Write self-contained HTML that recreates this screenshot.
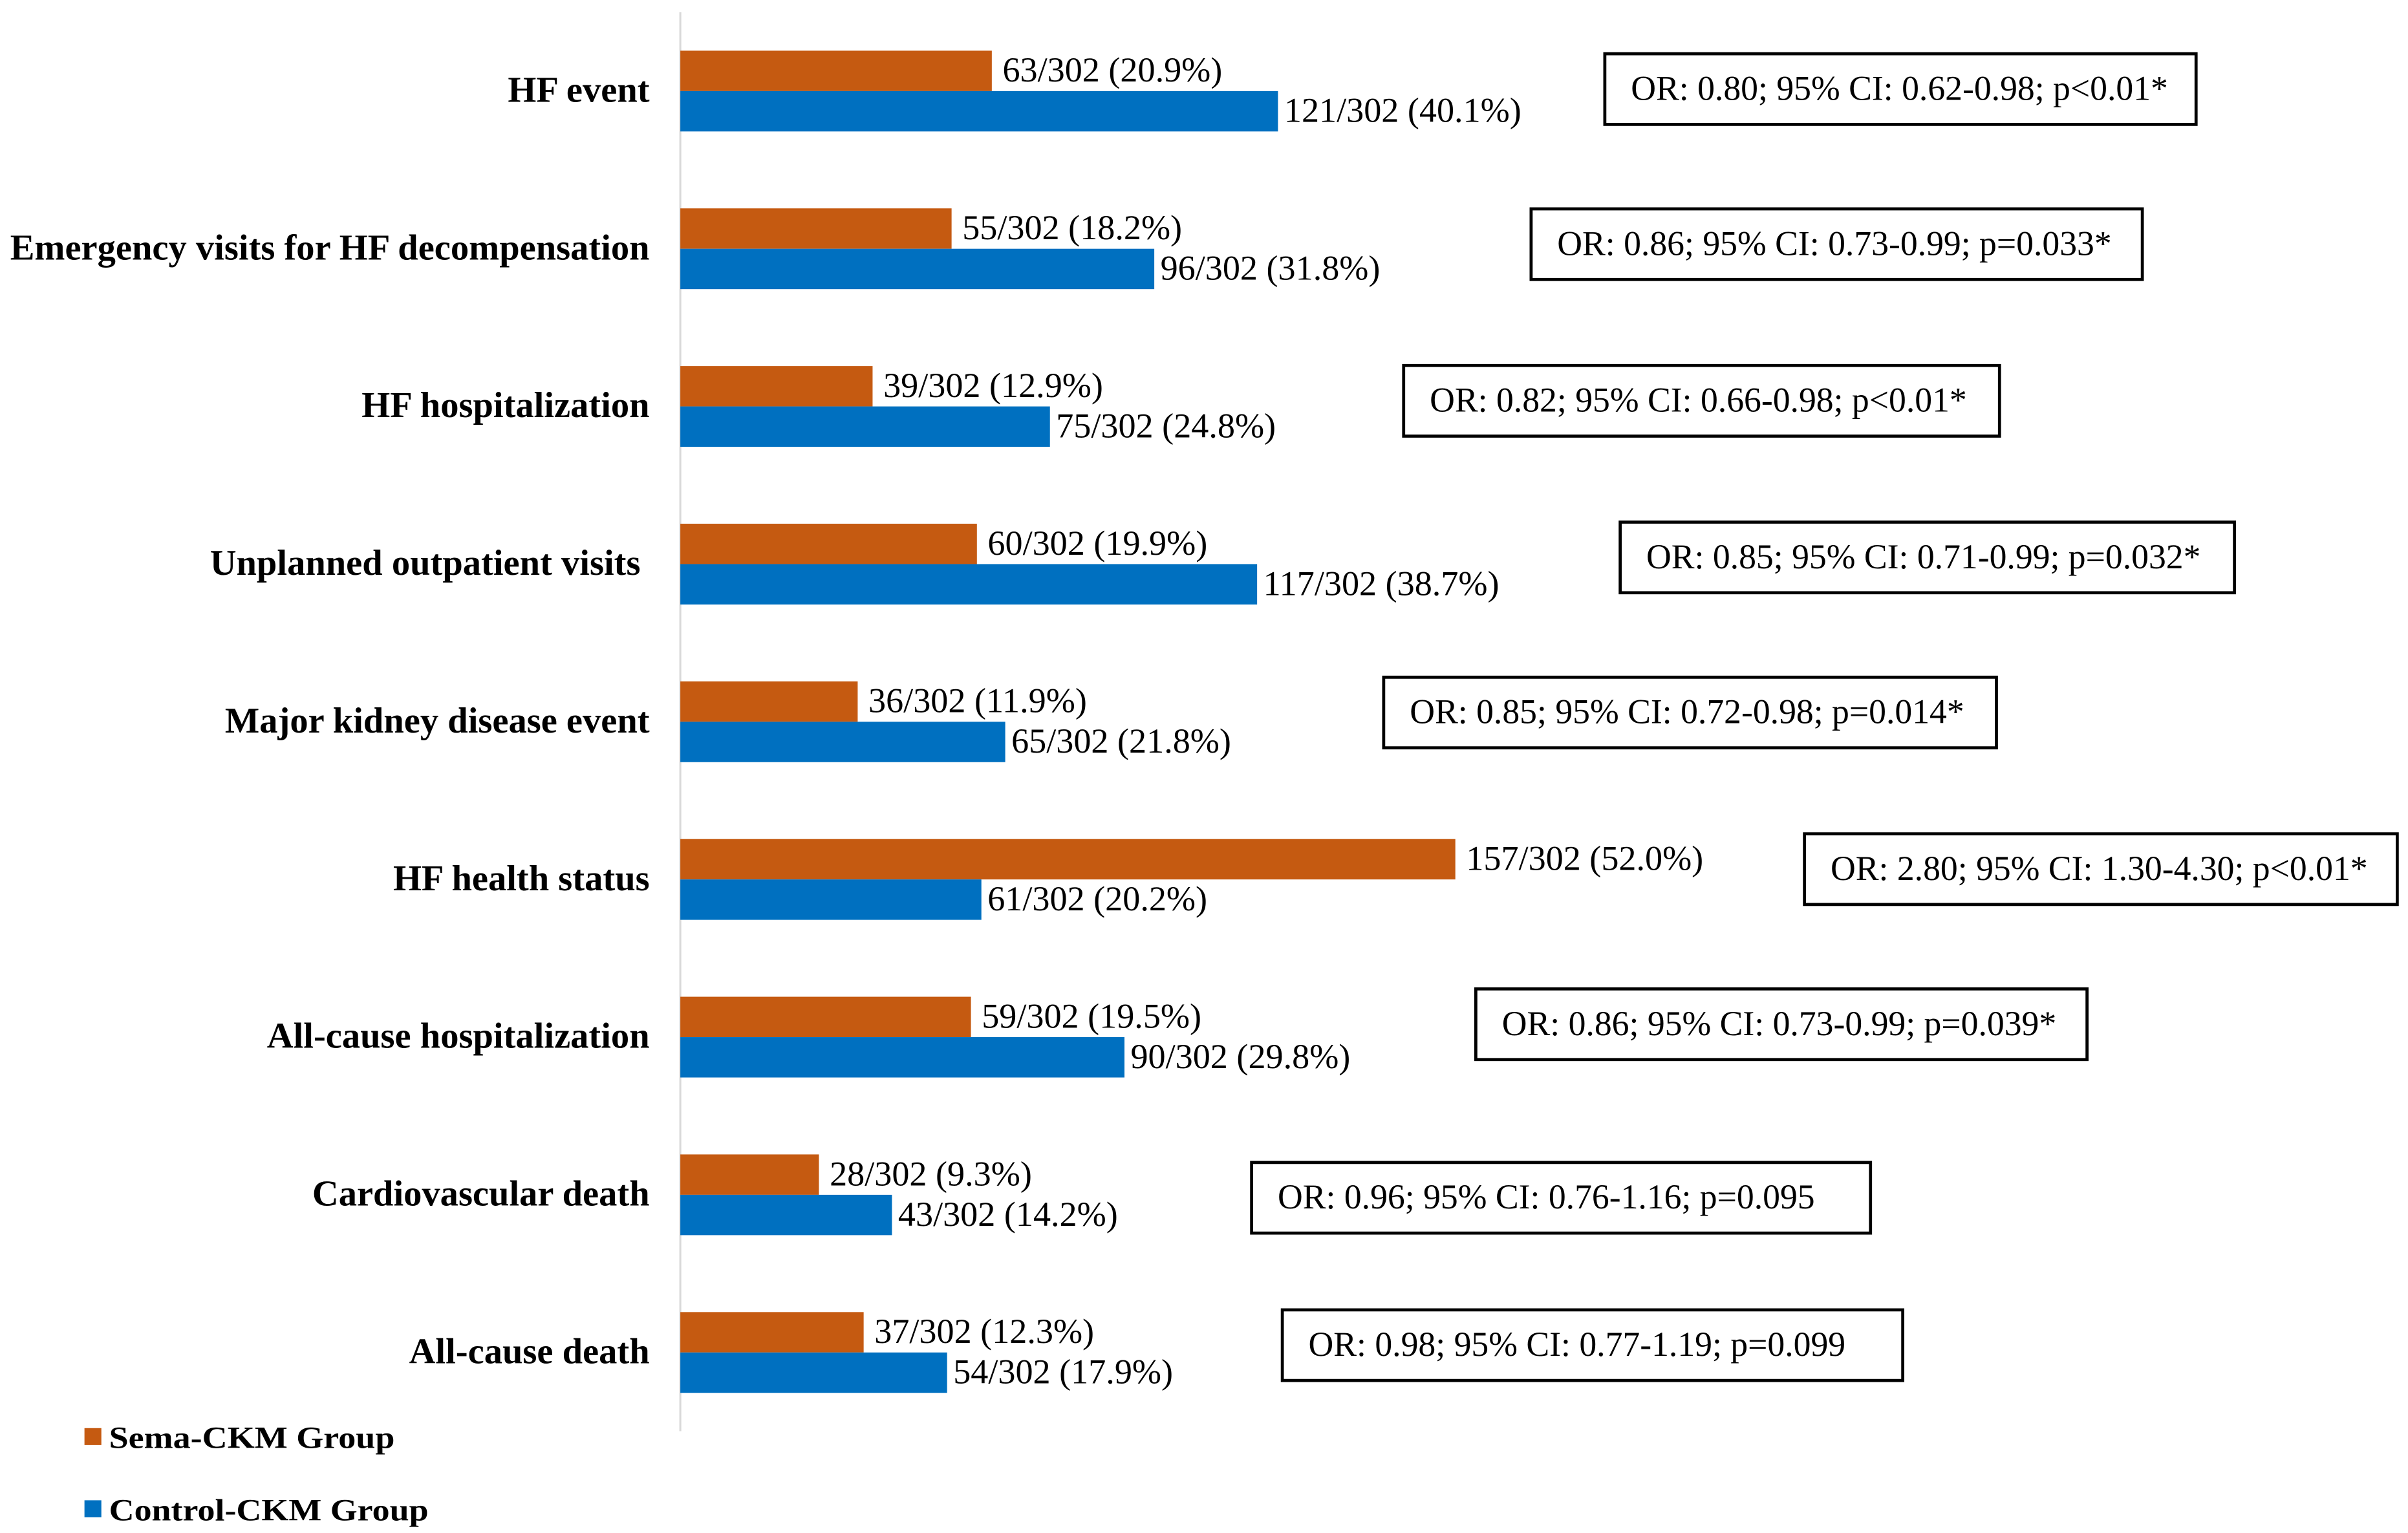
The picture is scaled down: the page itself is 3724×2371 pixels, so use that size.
<!DOCTYPE html>
<html><head><meta charset="utf-8"><style>html,body{margin:0;padding:0;background:#fff}svg{display:block}</style></head>
<body>
<svg id="chart" xmlns="http://www.w3.org/2000/svg" width="3724" height="2371" viewBox="0 0 1568 998.3" font-family="'Liberation Serif', serif">
<rect x="0" y="0" width="1568" height="998.3" fill="#fff"/>
<line x1="443" y1="8" x2="443" y2="932" stroke="#d9d9d9" stroke-width="1.3"/>
<g id="bars"></g>
<g>
<rect x="55" y="930" width="11" height="11" fill="#C55A11"/>
<text x="71" y="943" font-size="20" font-weight="bold" textLength="186" lengthAdjust="spacingAndGlyphs">Sema-CKM Group</text>
<rect x="55" y="977" width="11" height="11" fill="#0070C0"/>
<text x="71" y="990" font-size="20" font-weight="bold" textLength="208" lengthAdjust="spacingAndGlyphs">Control-CKM Group</text>
</g>
</svg>
<script>
const categories = ["HF event","Emergency visits for HF decompensation","HF hospitalization","Unplanned outpatient visits\u00a0","Major kidney disease event","HF health status","All-cause hospitalization","Cardiovascular death","All-cause death"];
const semaCounts = [63,55,39,60,36,157,59,28,37];
const semaPct = [20.9,18.2,12.9,19.9,11.9,52.0,19.5,9.3,12.3];
const ctrlCounts = [121,96,75,117,65,61,90,43,54];
const ctrlPct = [40.1,31.8,24.8,38.7,21.8,20.2,29.8,14.2,17.9];
const totals = [302,302,302,302,302,302,302,302,302];
const orLabels = ["OR: 0.80; 95% CI: 0.62-0.98; p<0.01*","OR: 0.86; 95% CI: 0.73-0.99; p=0.033*","OR: 0.82; 95% CI: 0.66-0.98; p<0.01*","OR: 0.85; 95% CI: 0.71-0.99; p=0.032*","OR: 0.85; 95% CI: 0.72-0.98; p=0.014*","OR: 2.80; 95% CI: 1.30-4.30; p<0.01*","OR: 0.86; 95% CI: 0.73-0.99; p=0.039*","OR: 0.96; 95% CI: 0.76-1.16; p=0.095","OR: 0.98; 95% CI: 0.77-1.19; p=0.099"];
// annotation box layout (left, top, right) in view units
const boxL = [1045,997,914,1055,901,1175,961,815,835];
const boxT = [35,136,238,340,441,543,644,757,853];
const boxR = [1430,1395,1302,1455,1300,1561,1359,1218,1239];

const NS = "http://www.w3.org/2000/svg";
const x0 = 443, pxPerPct = 9.705, bandTop = 33, bandStep = 102.68, barH = 26.3;
const xScale = p => x0 + p * pxPerPct;
const yScale = i => bandTop + i * bandStep;
const g = document.getElementById('bars');
function mk(tag, attrs, txt){const e=document.createElementNS(NS,tag);for(const k in attrs)e.setAttribute(k,attrs[k]);if(txt!==undefined)e.textContent=txt;g.appendChild(e);return e;}

categories.forEach((c,i)=>{
  const y = yScale(i);
  const t = mk('text',{x:423,y:y+barH+7,'font-size':23.8,'font-weight':'bold','text-anchor':'end'},c);
  
  
  const ws = xScale(semaPct[i]);
  const b1 = mk('rect',{x:x0,y:y,width:ws-x0,height:barH,fill:'#C55A11'});
  
  
  const l1 = mk('text',{x:ws+7,y:y+barH/2+7,'font-size':22.8},semaCounts[i]+'/'+totals[i]+' ('+semaPct[i].toFixed(1)+'%)');
  
  
  const wc = xScale(ctrlPct[i]);
  const b2 = mk('rect',{x:x0,y:y+barH,width:wc-x0,height:barH,fill:'#0070C0'});
  
  
  const l2 = mk('text',{x:wc+4,y:y+barH*1.5+7,'font-size':22.8},ctrlCounts[i]+'/'+totals[i]+' ('+ctrlPct[i].toFixed(1)+'%)');
  
  
  const bx = mk('rect',{x:boxL[i],y:boxT[i],width:boxR[i]-boxL[i],height:46,fill:'#fff',stroke:'#000','stroke-width':2});
  
  
  const ot = mk('text',{x:boxL[i]+17,y:boxT[i]+30,'font-size':22.6},orLabels[i]);
  
  
});
</script>
</body></html>
